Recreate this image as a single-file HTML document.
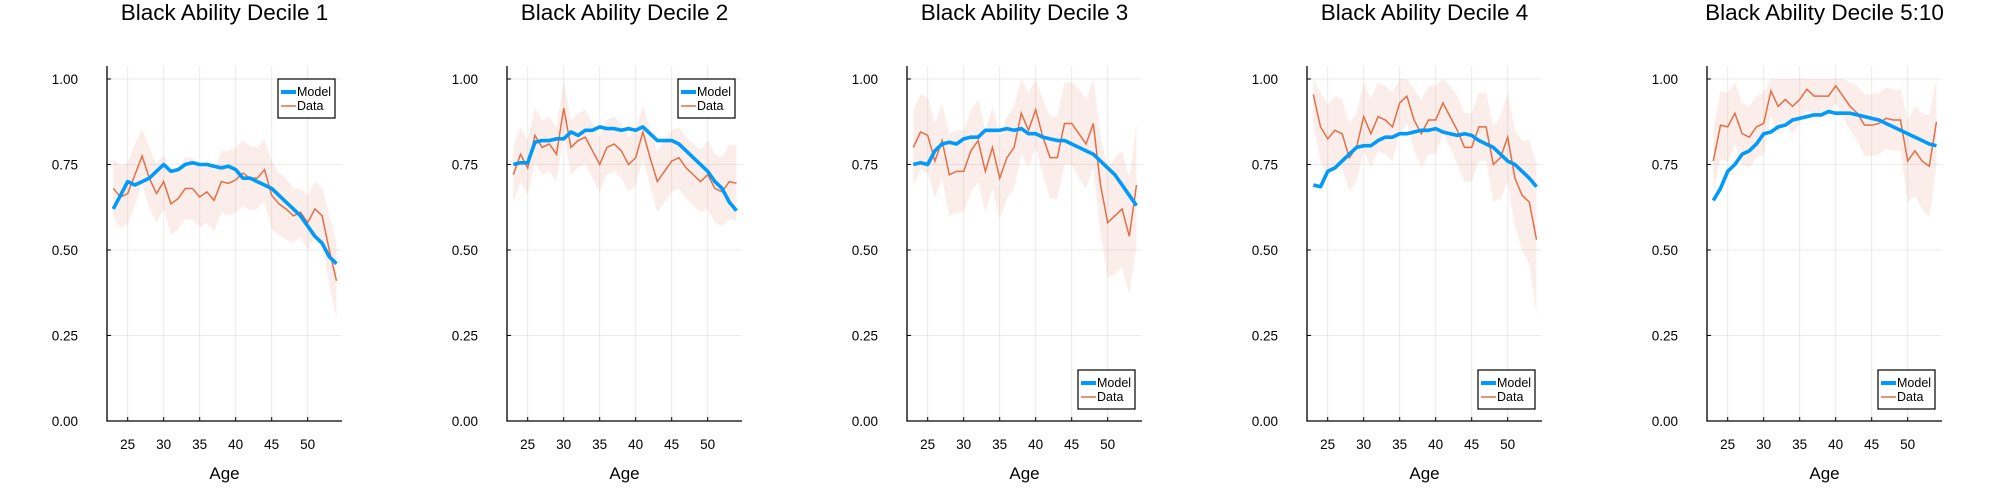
<!DOCTYPE html>
<html><head><meta charset="utf-8"><style>
body{margin:0;background:#fff;}
svg{display:block;font-family:"Liberation Sans","DejaVu Sans",sans-serif;}
</style></head><body>
<svg id="chart" width="2000" height="500"></svg>
<script>
const ages=[23,24,25,26,27,28,29,30,31,32,33,34,35,36,37,38,39,40,41,42,43,44,45,46,47,48,49,50,51,52,53,54];
const titles=["Black Ability Decile 1","Black Ability Decile 2","Black Ability Decile 3","Black Ability Decile 4","Black Ability Decile 5:10"];
const legendPos=["top","top","bottom","bottom","bottom"];
const xTicks=[25,30,35,40,45,50];
const yTicks=[0,0.25,0.5,0.75,1.0];
const yTickLabels=["0.00","0.25","0.50","0.75","1.00"];
const model1=[.62,.66,.70,.69,.70,.71,.73,.75,.73,.735,.75,.755,.75,.75,.745,.74,.745,.735,.71,.71,.70,.69,.68,.66,.64,.62,.60,.57,.54,.52,.48,.46];
const data1=[.68,.655,.665,.72,.775,.71,.665,.70,.635,.65,.68,.68,.655,.67,.645,.70,.695,.705,.725,.71,.71,.735,.66,.635,.62,.60,.61,.58,.62,.60,.50,.41];
const spread1=[.085,.09,.09,.09,.08,.09,.085,.08,.09,.09,.09,.09,.09,.09,.09,.09,.095,.095,.095,.095,.09,.09,.10,.09,.09,.08,.07,.08,.08,.08,.10,.11];
const model2=[.75,.755,.755,.815,.82,.82,.825,.825,.845,.835,.85,.85,.86,.855,.855,.85,.855,.85,.86,.84,.82,.82,.82,.81,.79,.77,.75,.73,.70,.68,.64,.615];
const data2=[.72,.78,.74,.835,.80,.81,.78,.915,.80,.82,.83,.79,.75,.80,.81,.79,.75,.77,.845,.77,.70,.73,.76,.77,.74,.72,.70,.72,.68,.67,.70,.695];
const spread2=[.08,.08,.08,.08,.08,.08,.08,.08,.08,.08,.08,.08,.08,.08,.08,.08,.08,.08,.08,.08,.09,.09,.09,.09,.09,.09,.09,.10,.10,.10,.11,.11];
const model3=[.75,.755,.75,.79,.81,.815,.81,.825,.83,.83,.85,.85,.85,.855,.85,.855,.84,.84,.83,.825,.82,.82,.81,.80,.79,.78,.76,.74,.72,.69,.66,.63];
const data3=[.80,.845,.835,.76,.82,.72,.73,.73,.79,.82,.73,.80,.71,.77,.80,.90,.85,.91,.83,.77,.77,.87,.87,.84,.81,.87,.69,.58,.60,.62,.54,.69];
const spread3=[.11,.11,.11,.11,.11,.12,.12,.12,.12,.12,.12,.12,.12,.12,.12,.12,.11,.11,.11,.12,.12,.12,.12,.13,.13,.13,.14,.16,.17,.17,.17,.18];
const model4=[.69,.685,.73,.74,.76,.78,.80,.805,.805,.82,.83,.83,.84,.84,.845,.85,.85,.855,.845,.84,.835,.84,.835,.82,.81,.80,.78,.76,.75,.73,.71,.685];
const data4=[.955,.86,.825,.85,.84,.77,.80,.89,.84,.89,.88,.86,.93,.95,.88,.84,.88,.88,.93,.89,.85,.80,.80,.86,.86,.75,.77,.83,.71,.66,.64,.53];
const spread4=[.09,.10,.10,.10,.10,.10,.10,.10,.10,.10,.10,.10,.09,.08,.09,.10,.10,.10,.09,.09,.10,.10,.10,.10,.10,.11,.12,.13,.14,.16,.18,.22];
const model5=[.645,.68,.73,.75,.78,.79,.81,.84,.845,.86,.865,.88,.885,.89,.895,.895,.905,.90,.90,.90,.895,.89,.885,.88,.87,.86,.85,.84,.83,.82,.81,.805];
const data5=[.76,.865,.86,.90,.84,.83,.86,.87,.965,.92,.94,.92,.94,.97,.95,.95,.95,.98,.95,.92,.90,.865,.865,.87,.885,.88,.88,.76,.79,.76,.745,.875];
const spread5=[.09,.10,.10,.09,.09,.09,.09,.09,.07,.08,.07,.08,.07,.06,.06,.06,.06,.05,.06,.07,.08,.09,.09,.09,.09,.09,.09,.12,.13,.14,.15,.13];
const models=[model1,model2,model3,model4,model5];
const datas=[data1,data2,data3,data4,data5];
const spreads=[spread1,spread2,spread3,spread4,spread5];

const NS="http://www.w3.org/2000/svg";
const svg=document.getElementById('chart');
function mk(tag,attrs,parent){const e=document.createElementNS(NS,tag);for(const k in attrs)e.setAttribute(k,attrs[k]);(parent||svg).appendChild(e);return e;}
const X0=107,X1=342,YT=66,YB=421;
function xs(a){return 127.7+(a-25)*7.2;}
function ys(v){return 421-342*v;}
for(let p=0;p<5;p++){
  const off=p*400;
  const g=mk('g',{transform:'translate('+off+',0)'});
  
  
  const t=mk('text',{x:(X0+X1)/2,y:20,'text-anchor':'middle','font-size':22.5,fill:'#000'},g);
  t.textContent=titles[p];
  
  
  xTicks.forEach(v=>{
    const l=mk('line',{x1:xs(v),x2:xs(v),y1:YT,y2:YB,stroke:'#000','stroke-opacity':0.08,'stroke-width':1},g);
    
    
    mk('line',{x1:xs(v),x2:xs(v),y1:YB,y2:YB-4,stroke:'#000'},g);
    const tx=mk('text',{x:xs(v),y:449,'text-anchor':'middle','font-size':13.5},g);
    tx.textContent=v;
    
    
  });
  yTicks.forEach((v,i)=>{
    const l=mk('line',{x1:X0,x2:X1,y1:ys(v),y2:ys(v),stroke:'#000','stroke-opacity':0.08,'stroke-width':1},g);
    
    
    mk('line',{x1:X0,x2:X0+4,y1:ys(v),y2:ys(v),stroke:'#000'},g);
    const tx=mk('text',{x:78,y:ys(v)+5,'text-anchor':'end','font-size':13.5},g);
    tx.textContent=yTickLabels[i];
    
    
  });
  const ax=mk('path',{d:`M${X0},${YT}V${YB}H${X1}`,fill:'none',stroke:'#000','stroke-width':1.3},g);
  
  
  const xl=mk('text',{x:(X0+X1)/2,y:479,'text-anchor':'middle','font-size':17},g);
  xl.textContent='Age';
  
  
  const d=datas[p],m=models[p],s=spreads[p];
  let up=ages.map((a,i)=>xs(a)+','+ys(Math.min(1.0,d[i]+s[i])));
  let lo=ages.map((a,i)=>xs(a)+','+ys(d[i]-s[i])).reverse();
  const band=mk('polygon',{points:up.concat(lo).join(' '),fill:'#E26F46','fill-opacity':0.12,stroke:'none'},g);
  
  
  const dl=mk('polyline',{points:ages.map((a,i)=>xs(a)+','+ys(d[i])).join(' '),fill:'none',stroke:'#E26F46','stroke-width':1.5},g);
  
  
  const ml=mk('polyline',{points:ages.map((a,i)=>xs(a)+','+ys(m[i])).join(' '),fill:'none',stroke:'#009AFA','stroke-width':3.6,'stroke-linejoin':'round'},g);
  
  
  const ly=legendPos[p]==='top'?79:370;
  const lg=mk('g',{transform:`translate(278,${ly})`},g);
  
  
  mk('rect',{x:0,y:0,width:57,height:39,fill:'#fff',stroke:'#000','stroke-width':1.2},lg);
  mk('line',{x1:3,x2:18,y1:13,y2:13,stroke:'#009AFA','stroke-width':4},lg);
  const t1=mk('text',{x:19,y:17,'font-size':12.5},lg);t1.textContent='Model';
  
  
  mk('line',{x1:3,x2:18,y1:27,y2:27,stroke:'#E26F46','stroke-width':1.5},lg);
  const t2=mk('text',{x:19,y:31,'font-size':12.5},lg);t2.textContent='Data';
  
  
}
</script>
</body></html>
